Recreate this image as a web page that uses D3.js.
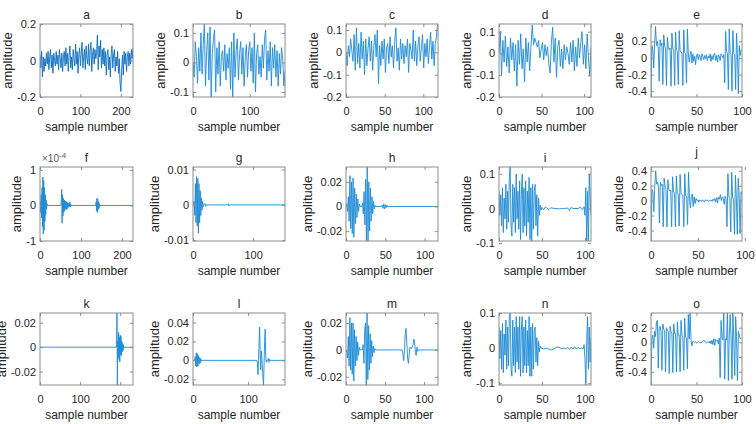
<!DOCTYPE html>
<html>
<head>
<meta charset="utf-8">
<script src="https://cdn.jsdelivr.net/npm/d3@7"></script>
<style>
body { margin: 0; background: #fff; }
svg text { font-family: "Liberation Sans", Arial, sans-serif; fill: #262626; }
</style>
</head>
<body>
<svg width="756" height="424"></svg>
<script>
// panel titles
var titles = ["a","b","c","d","e","f","g","h","i","j","k","l","m","n","o"];

// dense signals: one value every `step` samples
var sigA = [0.03,-0.04,0.05,-0.09,0.02,-0.06,0.01,-0.03,0.04,-0.02,
  0.05,-0.05,0.02,0.06,-0.04,0.03,-0.07,0.04,0.00,-0.03,
  0.05,-0.02,0.03,-0.05,0.06,0.01,-0.04,0.04,-0.06,0.02,
  0.05,-0.03,0.07,-0.02,0.04,-0.06,0.03,0.08,-0.04,0.02,
  -0.05,0.06,0.01,-0.03,0.09,-0.02,0.05,-0.07,0.03,0.07,
  -0.03,0.04,0.10,-0.04,0.02,0.06,-0.05,0.08,0.01,-0.02,
  0.09,-0.03,0.05,0.10,-0.06,0.03,0.07,-0.02,0.06,0.01,
  0.04,0.14,-0.05,0.08,0.02,0.11,-0.04,0.06,-0.02,0.07,
  -0.03,0.05,-0.08,0.03,0.06,-0.05,0.02,-0.09,0.04,0.08,
  -0.04,0.03,0.06,-0.06,0.02,-0.03,0.05,-0.07,0.01,-0.12,
  -0.17,-0.05,0.03,-0.08,0.05,-0.02,0.04,-0.06,0.02,0.05,
  -0.03,0.04,-0.02,0.06,0.01,0.07];
var sigB = [0.00,-0.05,0.07,0.02,-0.07,0.05,-0.03,0.10,-0.04,0.06,
  0.13,-0.08,0.04,0.10,-0.06,0.12,-0.12,0.03,0.08,0.11,
  -0.10,0.05,-0.04,0.07,-0.08,0.02,0.04,-0.03,0.06,-0.06,
  0.03,-0.02,0.05,-0.09,0.07,-0.12,0.10,-0.05,0.04,0.08,
  -0.06,0.03,0.07,-0.04,0.05,-0.08,0.02,0.06,-0.05,0.04,
  0.07,-0.03,0.05,-0.07,0.10,-0.10,0.03,0.06,-0.04,0.02,
  -0.05,0.06,-0.02,0.08,0.11,-0.06,0.04,-0.03,0.07,-0.08,
  0.05,-0.02,0.06,-0.05,0.04,-0.08,0.03,-0.04,0.05,0.01,
  -0.08,-0.03];
var sigC = [0.00,-0.06,0.03,-0.02,0.06,0.01,-0.04,0.08,-0.08,0.11,
  -0.05,0.04,-0.07,0.09,-0.03,0.05,-0.10,0.06,-0.06,0.02,
  0.07,-0.04,0.05,-0.08,0.03,0.08,-0.02,0.10,-0.14,0.03,
  -0.06,0.05,-0.03,0.06,-0.09,0.02,0.04,-0.05,0.07,-0.02,
  0.03,-0.07,0.05,0.11,-0.04,0.02,-0.08,0.06,-0.03,0.04,
  -0.05,0.03,-0.02,0.06,-0.09,0.04,0.01,-0.03,0.10,-0.04,
  0.05,-0.06,0.03,0.07,-0.04,0.02,0.08,-0.07,0.04,-0.02,
  0.06,-0.05,0.03,0.09,-0.03,0.05,-0.06,0.04,0.07,0.13];
var sigD = [0.00,0.10,-0.10,0.06,-0.04,0.08,-0.06,0.03,-0.09,0.07,
  -0.03,0.05,-0.08,0.04,-0.15,0.06,-0.05,0.09,-0.07,0.02,
  -0.13,0.07,-0.04,0.05,-0.08,0.03,0.13,0.04,0.07,0.05,
  0.03,0.06,-0.02,0.02,0.05,-0.03,0.04,-0.01,0.03,-0.05,
  -0.09,0.05,0.12,-0.04,0.07,-0.11,0.03,0.06,-0.06,0.02,
  -0.07,0.04,-0.03,0.03,0.00,-0.05,0.05,-0.04,0.06,-0.08,
  0.03,-0.06,0.07,-0.02,0.05,0.10,-0.05,0.04,-0.07,0.09,
  -0.02,-0.10,0.03];
var sigE = [-0.45,0.15,0.10,-0.12,0.18,0.38,0.15,0.20,0.12,-0.28,
  0.22,0.15,0.18,-0.32,0.28,0.14,0.12,-0.33,0.25,0.13,
  0.10,0.12,-0.34,0.30,0.11,0.09,-0.33,0.31,0.10,0.08,
  -0.32,0.33,0.09,0.07,0.06,-0.33,0.34,0.07,0.05,-0.30,
  0.35,0.06,-0.05,0.04,0.08,-0.06,0.05,-0.04,0.02,-0.08,
  0.03,0.05,-0.02,0.04,0.01,-0.03,0.05,0.02,-0.02,0.03,
  -0.01,0.04,-0.03,0.02,0.00,0.05,-0.04,0.03,-0.02,0.04,
  0.06,-0.03,0.03,-0.05,0.04,0.02,-0.03,0.05,0.03,0.00,
  0.04,-0.30,0.32,0.08,0.05,-0.38,0.35,0.06,0.04,-0.40,
  0.33,0.05,0.04,-0.38,0.30,0.05,-0.43,0.15,0.03,0.10];
var sigJ = [-0.54,0.15,0.12,-0.15,0.20,0.40,0.22,0.25,0.18,-0.30,
  0.25,0.20,0.22,-0.35,0.30,0.18,0.15,-0.35,0.28,0.15,
  0.13,0.14,-0.35,0.32,0.12,0.10,-0.35,0.33,0.10,0.09,
  -0.34,0.35,0.10,0.08,0.07,-0.35,0.36,0.07,0.05,-0.32,
  0.38,0.05,-0.10,0.06,0.09,-0.08,0.05,-0.04,0.03,0.00,
  0.01,-0.02,0.01,0.00,-0.01,0.01,0.00,-0.02,0.01,0.00,
  0.01,-0.01,0.00,0.00,0.01,-0.01,0.02,0.00,0.03,-0.02,
  0.04,-0.03,0.05,0.02,0.08,0.00,0.05,0.03,-0.05,0.06,
  0.02,-0.35,0.36,0.05,0.03,-0.42,0.38,0.04,0.02,-0.45,
  0.34,0.03,-0.45,0.30,0.05,-0.44,0.12,0.08];
var sigO = [-0.55,0.05,0.10,-0.08,0.15,0.08,0.28,0.30,-0.35,0.20,
  0.22,0.15,-0.38,0.25,0.18,0.16,-0.40,0.20,0.16,0.15,
  -0.42,0.22,0.14,0.13,-0.41,0.25,0.12,0.12,-0.40,0.28,
  0.10,0.10,-0.40,0.30,0.09,0.08,-0.38,0.33,0.07,0.06,
  -0.36,0.38,0.05,0.40,0.03,-0.05,0.02,0.01,0.00,0.01,
  -0.01,0.00,0.01,0.00,0.00,-0.01,0.01,0.02,0.03,0.02,
  0.00,-0.01,0.00,0.01,-0.01,0.02,-0.02,0.03,-0.03,0.05,
  -0.04,0.04,0.02,0.03,-0.02,0.06,-0.48,0.30,0.05,0.03,
  0.40,-0.50,0.05,0.03,0.42,-0.52,0.10,0.38,0.05,-0.50,
  0.40,0.05,-0.45,0.35,0.08,-0.52,0.15,0.10,0.05,0.06];

// sparse signals: [sample, amplitude] (f is in units of 1e-4)
var sigF = [[0,0],[1,0.1],[2,-0.2],[3,0.3],[4,-0.35],[5,0.5],[6,-0.6],[7,0.8],[8,-0.8],[9,0.7],
  [10,-0.7],[11,0.5],[12,-0.45],[13,0.3],[14,-0.25],[15,0.15],[16,-0.1],[17,0.05],[18,0],
  [51,0],[52,0.15],[53,0.45],[54,-0.5],[55,0.3],[56,-0.3],[57,0.2],[58,-0.2],[59,0.15],[60,-0.15],
  [61,0.12],[62,-0.1],[63,0.12],[64,-0.12],[65,0.1],[66,-0.1],[67,0.08],[68,-0.06],[69,0.06],
  [70,-0.04],[71,0.05],[72,-0.03],[73,0.1],[74,-0.05],[75,0.03],[76,-0.02],[77,0],
  [136,0],[137,0.1],[138,-0.15],[139,0.2],[140,-0.2],[141,0.18],[142,-0.12],[143,0.1],
  [144,-0.08],[145,0.05],[146,0],[227,0]];
var sigG = [[0,0],[2,0.001],[3,-0.003],[4,0.006],[5,-0.005],[6,0.008],[7,-0.006],[8,0.0075],
  [9,-0.008],[10,0.006],[11,-0.005],[12,0.004],[13,-0.003],[14,0.002],[15,-0.0015],[16,0.001],
  [17,-0.0005],[18,0],[20,0.0004],[21,-0.0004],[22,0],[58,0],[59,0.0003],[60,-0.0003],[61,0],[153,0]];
var sigH = [[0,0],[1,0.002],[2,-0.004],[3,0.008],[4,-0.012],[5,0.025],[6,-0.018],[7,0.02],
  [8,-0.022],[9,0.023],[10,-0.025],[11,0.015],[12,-0.014],[13,0.01],[14,-0.009],[15,0.006],
  [16,-0.004],[17,0.002],[18,0],[20,0],[21,0.003],[22,-0.006],[23,0.012],[24,-0.015],[25,0.022],
  [26,-0.028],[27,0.032],[28,-0.03],[29,0.02],[30,-0.02],[31,0.015],[32,-0.012],[33,0.008],
  [34,-0.006],[35,0.004],[36,-0.002],[37,0.001],[38,0],[45,0],[46,0.001],[47,-0.0015],[48,0.002],
  [49,-0.002],[50,0.0015],[51,-0.001],[52,0.001],[53,-0.0005],[54,0],[117,0]];
var sigI = [[0,0.05],[1,-0.02],[2,0.04],[3,-0.05],[4,0.06],[5,-0.07],[6,0.03],[7,-0.03],[8,0.07],
  [9,-0.06],[10,0.05],[11,-0.04],[12,0.09],[13,0.12],[14,-0.05],[15,-0.08],[16,0.07],[17,-0.04],
  [18,0.06],[19,-0.07],[20,0.10],[21,-0.03],[22,0.05],[23,-0.06],[24,0.08],[25,-0.09],[26,0.04],
  [27,0.10],[28,-0.07],[29,0.06],[30,-0.05],[31,0.08],[32,-0.08],[33,0.05],[34,-0.04],[35,0.09],
  [36,-0.09],[37,0.06],[38,-0.10],[39,0.07],[40,-0.06],[41,0.05],[42,0.07],[43,-0.05],[44,0.04],
  [45,-0.08],[46,0.03],[47,-0.02],[48,0.01],[49,-0.005],[50,0.003],[52,-0.004],[54,0.005],[56,0],
  [58,-0.003],[60,0.002],[65,0],[70,-0.001],[75,0],[80,0.001],[82,-0.006],[84,0.003],[86,0],
  [92,0],[95,0.004],[97,-0.003],[99,0.005],[100,-0.02],[101,0.06],[102,-0.1],[103,0.05],
  [104,-0.1],[105,0.1],[106,0.03],[107,-0.02]];
var sigK = [[0,0],[190,0],[191,0.002],[192,0.028],[193,-0.031],[194,0.005],[195,-0.008],[196,0.012],
  [197,-0.01],[198,0.008],[199,-0.012],[200,0.01],[201,-0.006],[202,0.009],[203,-0.007],[204,0.005],
  [205,-0.004],[206,0.003],[207,-0.003],[208,0.002],[209,-0.001],[210,0],[232,0]];
var sigL = [[0,0],[3,0],[4,0.004],[5,-0.006],[6,0.008],[7,-0.007],[8,0.007],[9,-0.006],[10,0.005],
  [11,-0.004],[12,0.003],[13,-0.003],[14,0.002],[15,-0.001],[16,0],[116,0],[117,-0.004],
  [118,-0.015],[119,0.0],[120,0.02],[121,0.035],[122,0.005],[123,-0.01],[124,0.01],[125,0.002],
  [126,-0.008],[127,-0.018],[128,-0.026],[129,-0.005],[130,0.02],[131,0.033],[132,0.005],
  [133,-0.002],[134,0.0],[136,0],[137,0.002],[138,-0.002],[139,0.001],[140,0],[167,0]];
var sigM = [[0,0],[1,-0.002],[2,-0.006],[3,0.01],[4,-0.012],[5,0.024],[6,-0.015],[7,0.02],
  [8,-0.018],[9,0.02],[10,-0.023],[11,0.015],[12,-0.012],[13,0.01],[14,-0.008],[15,0.006],
  [16,-0.004],[17,0.002],[18,0],[21,0],[22,0.004],[23,-0.01],[24,0.015],[25,0.02],[26,-0.028],
  [27,0.028],[28,-0.022],[29,0.018],[30,-0.015],[31,0.012],[32,-0.01],[33,0.007],[34,-0.005],
  [35,0.003],[36,-0.002],[37,0.001],[38,0],[72,0],[73,-0.003],[74,-0.008],[75,0.0],[76,0.012],
  [77,0.016],[78,0.005],[79,-0.006],[80,-0.01],[81,-0.004],[82,0.002],[84,0.001],[86,0.004],
  [87,0.008],[88,0.006],[89,-0.002],[90,-0.004],[91,0.002],[92,-0.001],[93,0.0],[118,0]];
var sigN = [[0,0.06],[1,-0.03],[2,0.05],[3,-0.06],[4,0.07],[5,-0.07],[6,0.04],[7,-0.02],[8,0.08],
  [9,-0.06],[10,0.06],[11,-0.05],[12,0.09],[13,0.10],[14,-0.06],[15,-0.08],[16,0.08],[17,-0.05],
  [18,0.06],[19,-0.07],[20,0.09],[21,-0.04],[22,0.06],[23,-0.06],[24,0.09],[25,-0.08],[26,0.05],
  [27,0.09],[28,-0.07],[29,0.06],[30,-0.05],[31,0.08],[32,-0.07],[33,0.05],[34,-0.05],[35,0.09],
  [36,-0.08],[37,0.06],[38,-0.08],[39,0.07],[40,-0.06],[41,0.05],[42,0.06],[43,-0.04],[44,0.03],
  [45,-0.05],[46,0.02],[47,-0.01],[48,0.005],[49,0],[52,-0.002],[55,0],[58,-0.003],[61,-0.005],
  [64,-0.002],[67,0.003],[70,0.002],[73,-0.002],[76,0],[78,-0.003],[80,0.002],[82,-0.004],
  [84,0.003],[86,-0.003],[88,0.004],[90,-0.003],[92,0.002],[94,-0.002],[96,0],[98,-0.002],
  [99,0.01],[100,-0.03],[101,-0.105],[102,0.02],[103,0.09],[104,-0.06],[105,0.06],[106,-0.04],[107,0.03]];

// axis ranges and ticks per panel
var xDomains = [[0,230],[0,162],[0,119],[0,108],[0,100],[0,227],[0,153],[0,117],[0,107],[0,97],
  [0,232],[0,167],[0,118],[0,107],[0,100]];
var yDomains = [[-0.2,0.2],[-0.117,0.13],[-0.2,0.127],[-0.2,0.135],[-0.47,0.41],[-1,1.08],
  [-0.0102,0.0107],[-0.028,0.032],[-0.094,0.12],[-0.54,0.45],[-0.031,0.028],[-0.026,0.05],
  [-0.026,0.0274],[-0.105,0.1],[-0.58,0.40]];
var xTicks = [[0,100,200],[0,100],[0,50,100],[0,50,100],[0,50,100],[0,100,200],[0,100],[0,50,100],
  [0,50,100],[0,50,100],[0,100,200],[0,100],[0,50,100],[0,50,100],[0,50,100]];
var yTicks = [[-0.2,0,0.2],[-0.1,0,0.1],[-0.2,-0.1,0,0.1],[-0.2,-0.1,0,0.1],[-0.4,-0.2,0,0.2],
  [-1,0,1],[-0.01,0,0.01],[-0.02,0,0.02],[-0.1,0,0.1],[-0.4,-0.2,0,0.2,0.4],[-0.02,0,0.02],
  [-0.02,0,0.02,0.04],[-0.02,0,0.02],[-0.1,0,0.1],[-0.4,-0.2,0,0.2]];

function steps(vals, step) {
  return vals.map(function(v, i) { return [i * step, v]; });
}

var series = [steps(sigA, 2), steps(sigB, 2), steps(sigC, 1.5), steps(sigD, 1.5), steps(sigE, 1),
  sigF, sigG, sigH, sigI, steps(sigJ, 1), sigK, sigL, sigM, sigN, steps(sigO, 1)];

// layout of the 3 x 5 grid
var colLeft = [40, 193, 346, 499, 651], colW = [93, 92, 92, 92, 91];
var rowTop = [24, 167, 313], rowH = [73, 74, 72];

var svg = d3.select("svg");
var boxColor = "#8c8c8c";

series.forEach(function(pts, i) {
  var r = Math.floor(i / 5), c = i % 5;
  var w = colW[c], h = rowH[r];
  var g = svg.append("g").attr("transform", "translate(" + colLeft[c] + "," + rowTop[r] + ")");

  var x = d3.scaleLinear().domain(xDomains[i]).range([0, w]);
  var y = d3.scaleLinear().domain(yDomains[i]).range([h, 0]);

  g.append("clipPath").attr("id", "clip" + i)
    .append("rect").attr("width", w).attr("height", h);

  g.append("path")
    .datum(pts)
    .attr("clip-path", "url(#clip" + i + ")")
    .attr("fill", "none")
    .attr("stroke", i === 0 ? "#0b6cc2" : "#1c8ad6")
    .attr("stroke-width", 0.9)
    .attr("stroke-linejoin", "round")
    .attr("d", d3.line().x(function(d) { return x(d[0]); }).y(function(d) { return y(d[1]); }));

  var fmt = function(v) { return v === 0 ? "0" : String(v); };

  g.append("g").attr("transform", "translate(0," + h + ")")
    .call(d3.axisBottom(x).tickValues(xTicks[i]).tickSizeInner(-3).tickSizeOuter(0).tickPadding(10).tickFormat(fmt));
  var ya = g.append("g")
    .call(d3.axisLeft(y).tickValues(yTicks[i]).tickSizeInner(-3).tickSizeOuter(0).tickPadding(4).tickFormat(fmt));
  g.append("g")
    .call(d3.axisTop(x).tickValues(xTicks[i]).tickSizeInner(-3).tickSizeOuter(0).tickFormat(""));
  g.append("g").attr("transform", "translate(" + w + ",0)")
    .call(d3.axisRight(y).tickValues(yTicks[i]).tickSizeInner(-3).tickSizeOuter(0).tickFormat(""));

  g.selectAll(".domain").remove();
  g.selectAll(".tick line").attr("stroke", boxColor);
  g.selectAll(".tick text").attr("fill", null).style("font-size", "11px");

  g.append("rect")
    .attr("width", w).attr("height", h)
    .attr("fill", "none").attr("stroke", boxColor).attr("stroke-width", 1);

  // ylabel sits left of the widest tick label
  var maxW = d3.max(ya.selectAll("text").nodes(), function(n) { return n.getBBox().width; });
  g.append("text")
    .attr("transform", "translate(" + (-4 - maxW - 5) + "," + (h / 2) + ") rotate(-90)")
    .attr("text-anchor", "middle")
    .style("font-size", "13px")
    .text("amplitude");

  g.append("text")
    .attr("x", w / 2).attr("y", h + 34)
    .attr("text-anchor", "middle")
    .style("font-size", "12px")
    .text("sample number");

  g.append("text")
    .attr("x", w / 2).attr("y", i === 9 ? -11 : -5)
    .attr("text-anchor", "middle")
    .style("font-size", "12px")
    .text(titles[i]);

  if (i === 5) {
    var ex = g.append("text").attr("x", 2).attr("y", -5)
      .style("font-size", "10px").style("fill", "#595959");
    ex.append("tspan").text("\u00d710");
    ex.append("tspan").attr("dy", -4).style("font-size", "8px").text("-4");
  }
});
</script>
</body>
</html>
